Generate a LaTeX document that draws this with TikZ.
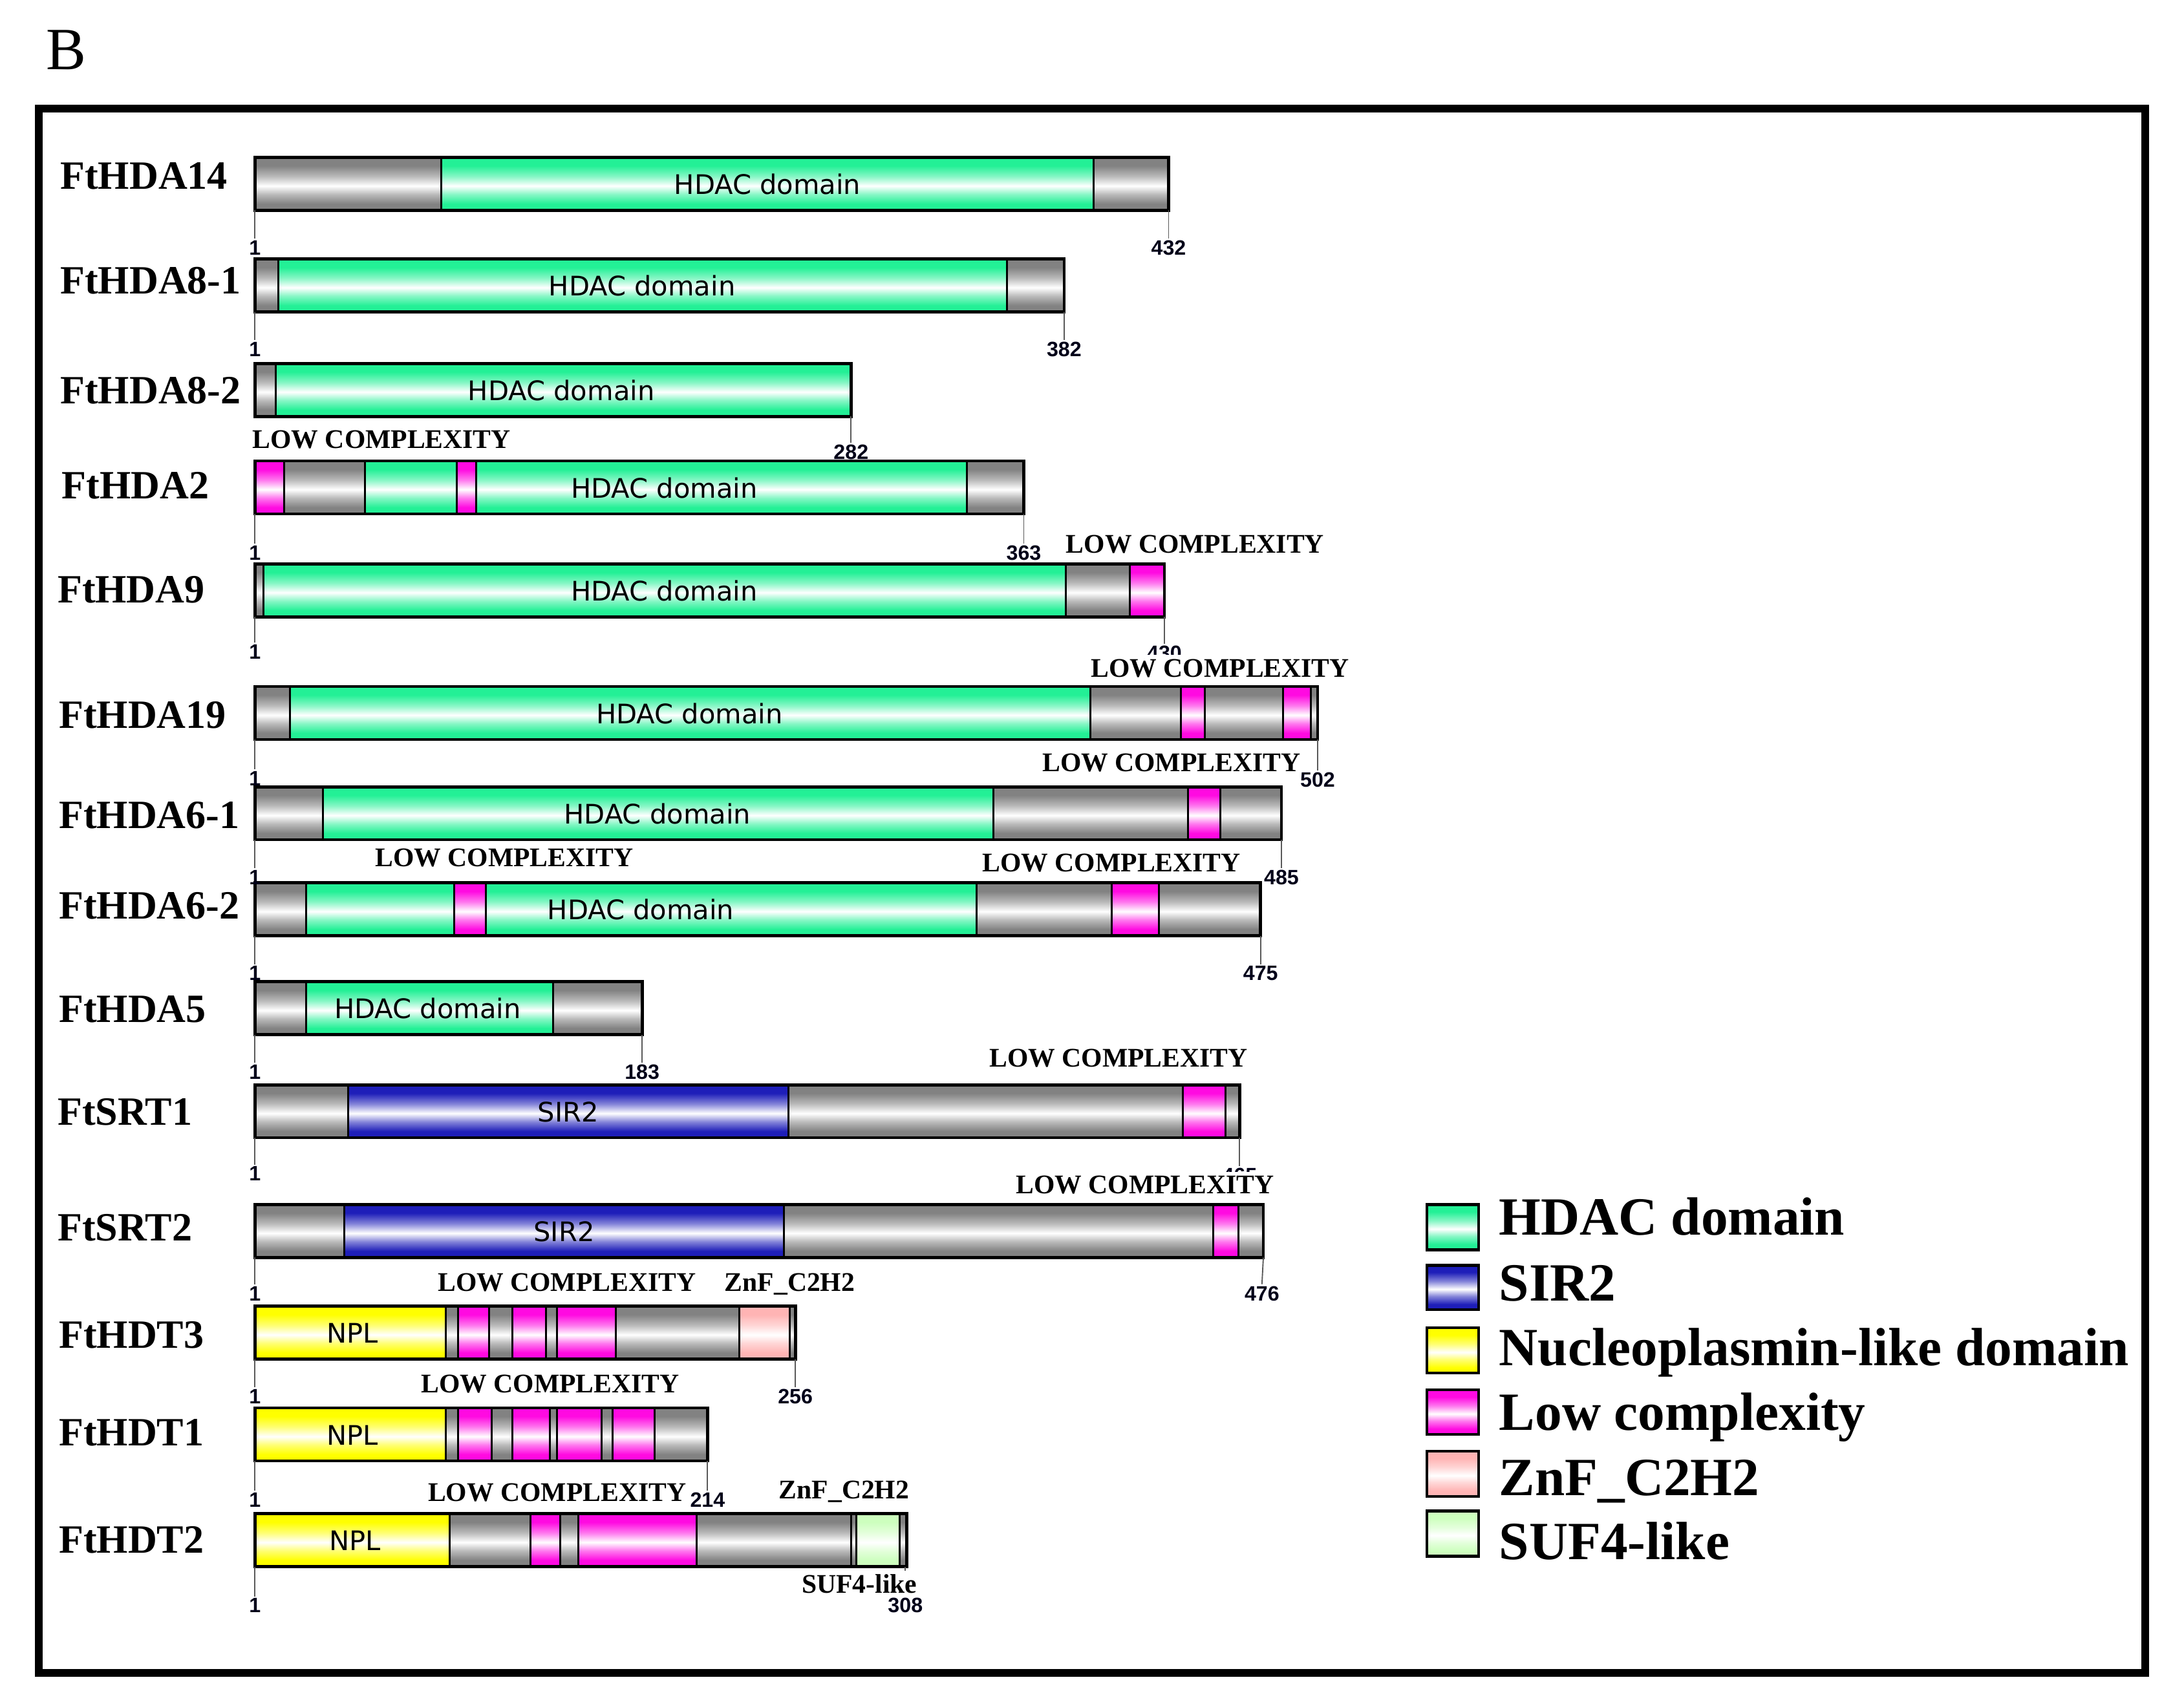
\documentclass[tikz,border=0pt]{standalone}
\usepackage{fontspec}
\setmainfont{Liberation Serif}
\newfontfamily\dvs{DejaVu Sans}
\newfontfamily\lsans{Liberation Sans}
\definecolor{cgrey}{RGB}{130,130,130}
\definecolor{cgreen}{RGB}{35,240,150}
\definecolor{cblue}{RGB}{30,30,185}
\definecolor{cyellow}{RGB}{255,255,0}
\definecolor{cpink}{RGB}{255,10,225}
\definecolor{czinc}{RGB}{255,180,180}
\definecolor{csuf}{RGB}{205,255,190}
\definecolor{ctick}{RGB}{90,90,90}
\newcommand{\mkshade}[2]{%
  \pgfdeclareverticalshading{#1}{100bp}{color(0bp)=(#2); color(25bp)=(#2); color(31bp)=(#2);
    color(40bp)=(#2!55!white); color(48bp)=(white); color(57bp)=(#2!55!white);
    color(67bp)=(#2); color(75bp)=(#2); color(100bp)=(#2)}}
\mkshade{shGrey}{cgrey}
\mkshade{shGreen}{cgreen}
\mkshade{shBlue}{cblue}
\mkshade{shYellow}{cyellow}
\mkshade{shPink}{cpink}
\mkshade{shZinc}{czinc}
\mkshade{shSuf}{csuf}
\tikzset{
  sgrey/.style={shading=shGrey}, sgreen/.style={shading=shGreen}, sblue/.style={shading=shBlue},
  syel/.style={shading=shYellow}, spink/.style={shading=shPink}, szinc/.style={shading=shZinc},
  ssuf/.style={shading=shSuf},
  segline/.style={draw=black, line width=0.8pt},
  barline/.style={draw=black, line width=1.25pt},
  tickline/.style={draw=ctick, line width=0.5pt},
  protname/.style={anchor=base west, inner sep=0pt, font=\fontsize{16.4}{18}\selectfont\bfseries},
  domtext/.style={anchor=base, inner sep=0pt, font=\dvs\fontsize{11}{13}\selectfont},
  numtext/.style={anchor=base, inner sep=0.6pt, font=\lsans\fontsize{8.5}{10}\selectfont\bfseries, text=black!90!blue},
  lctext/.style={anchor=base, inner xsep=0pt, inner ysep=1.6pt, fill=white, font=\fontsize{11}{13}\selectfont\bfseries},
  legtext/.style={anchor=base west, inner sep=0pt, font=\fontsize{22}{26}\selectfont\bfseries},
  legbox/.style={draw=black, line width=1.2pt}
}
\newcommand{\protbar}[3]{%
  \foreach \a/\b/\s in {#3}{\shadedraw[\s,segline] (\a,#1-19) rectangle (\b,#1+19);}
  \draw[barline] (183,#1-19) rectangle (#2,#1+19);}
\begin{document}
\begin{tikzpicture}[x=0.02cm,y=-0.02cm]
\useasboundingbox (0,0) rectangle (1568,1221.8);
% panel letter and frame
\node[anchor=base west, inner sep=0pt, font=\fontsize{24.5}{28}\selectfont] (panelB) at (33,50) {B};
\draw[line width=3.2pt] (27.9,77.8) rectangle (1540.2,1201.2);

% ---------- bars ----------
\protbar{132}{839}{183/317/sgrey, 317/785/sgreen, 785/839/sgrey}
\protbar{205}{764}{183/200/sgrey, 200/723/sgreen, 723/764/sgrey}
\protbar{280}{611}{183/198/sgrey, 198/611/sgreen}
\protbar{350}{735}{183/204/spink, 204/262/sgrey, 262/328/sgreen, 328/342/spink, 342/694/sgreen, 694/735/sgrey}
\protbar{424}{836}{183/189/sgrey, 189/765/sgreen, 765/811/sgrey, 811/836/spink}
\protbar{512}{946}{183/208/sgrey, 208/783/sgreen, 783/848/sgrey, 848/865/spink, 865/921/sgrey, 921/941/spink, 941/946/sgrey}
\protbar{584}{920}{183/232/sgrey, 232/713/sgreen, 713/853/sgrey, 853/876/spink, 876/920/sgrey}
\protbar{653}{905}{183/220/sgrey, 220/326/sgreen, 326/349/spink, 349/701/sgreen, 701/798/sgrey, 798/832/spink, 832/905/sgrey}
\protbar{724}{461}{183/220/sgrey, 220/397/sgreen, 397/461/sgrey}
\protbar{798}{890}{183/250/sgrey, 250/566/sblue, 566/849/sgrey, 849/880/spink, 880/890/sgrey}
\protbar{884}{907}{183/247/sgrey, 247/563/sblue, 563/871/sgrey, 871/889/spink, 889/907/sgrey}
\protbar{957}{571}{183/320/syel, 320/329/sgrey, 329/351/spink, 351/368/sgrey, 368/392/spink, 392/400/sgrey, 400/442/spink, 442/531/sgrey, 531/567/szinc, 567/571/sgrey}
\protbar{1030}{508}{183/320/syel, 320/329/sgrey, 329/353/spink, 353/368/sgrey, 368/395/spink, 395/400/sgrey, 400/432/spink, 432/440/sgrey, 440/470/spink, 470/508/sgrey}
\protbar{1106}{651}{183/323/syel, 323/381/sgrey, 381/402/spink, 402/415/sgrey, 415/500/spink, 500/611/sgrey, 611/615/sgrey, 615/646/ssuf, 646/651/sgrey}

% ---------- domain texts ----------
\node[domtext] (d1) at (551,139.5) {HDAC domain};
\node[domtext] (d2) at (461,212.5) {HDAC domain};
\node[domtext] (d3) at (403,287.5) {HDAC domain};
\node[domtext] (d4) at (477,357.5) {HDAC domain};
\node[domtext] (d5) at (477,431.5) {HDAC domain};
\node[domtext] (d6) at (495,519.5) {HDAC domain};
\node[domtext] (d7) at (472,591.5) {HDAC domain};
\node[domtext] (d8) at (460,660.5) {HDAC domain};
\node[domtext] (d9) at (307,731.5) {HDAC domain};
\node[domtext] (d10) at (408,805.5) {SIR2};
\node[domtext] (d11) at (405,891.5) {SIR2};
\node[domtext] (d12) at (253,964.5) {NPL};
\node[domtext] (d13) at (253,1037.5) {NPL};
\node[domtext] (d14) at (255,1113.5) {NPL};

% ---------- protein names ----------
\node[protname] (l1) at (43,136) {FtHDA14};
\node[protname] (l2) at (43,211) {FtHDA8-1};
\node[protname] (l3) at (43,290) {FtHDA8-2};
\node[protname] (l4) at (44,358) {FtHDA2};
\node[protname] (l5) at (41,433) {FtHDA9};
\node[protname] (l6) at (42,523) {FtHDA19};
\node[protname] (l7) at (42,595) {FtHDA6-1};
\node[protname] (l8) at (42,660) {FtHDA6-2};
\node[protname] (l9) at (42,734) {FtHDA5};
\node[protname] (l10) at (41,808) {FtSRT1};
\node[protname] (l11) at (41,891) {FtSRT2};
\node[protname] (l12) at (42,968) {FtHDT3};
\node[protname] (l13) at (42,1038) {FtHDT1};
\node[protname] (l14) at (42,1115) {FtHDT2};

% ---------- position numbers and ticks ----------
\node[numtext] (s1) at (183,183) {1};   \node[numtext] (e1) at (839,183) {432};
\node[numtext] (s2) at (183,256) {1};   \node[numtext] (e2) at (764,256) {382};
                                        \node[numtext] (e3) at (611,330) {282};
\node[numtext] (s4) at (183,402) {1};   \node[numtext] (e4) at (735,402) {363};
\node[numtext] (s5) at (183,473) {1};   \node[numtext] (e5) at (836,474) {430};
\node[numtext] (s6) at (183,564) {1};   \node[numtext] (e6) at (946,565) {502};
\node[numtext] (s7) at (183,635) {1};   \node[numtext] (e7) at (920,635) {485};
\node[numtext] (s8) at (183,704) {1};   \node[numtext] (e8) at (905,704) {475};
\node[numtext] (s9) at (183,775) {1};   \node[numtext] (e9) at (461,775) {183};
\node[numtext] (s10) at (183,848) {1};  \node[numtext] (e10) at (890,849) {465};
\node[numtext] (s11) at (183,934) {1};  \node[numtext] (e11) at (906,934) {476};
\node[numtext] (s12) at (183,1008) {1}; \node[numtext] (e12) at (571,1008) {256};
\node[numtext] (s13) at (183,1082) {1}; \node[numtext] (e13) at (508,1082) {214};
\node[numtext] (s14) at (183,1158) {1}; \node[numtext] (e14) at (650,1158) {308};

\foreach \y/\n in {151/1, 224/2, 369/4, 443/5, 531/6, 603/7, 672/8, 743/9, 817/10, 903/11, 976/12, 1049/13, 1125/14}
  {\draw[tickline] (183,\y) -- (s\n.north);}
\foreach \y/\x/\n in {151/839/1, 224/764/2, 299/611/3, 369/735/4, 443/836/5, 531/946/6, 603/920/7, 672/905/8, 743/461/9, 817/890/10, 903/907/11, 976/571/12, 1049/508/13, 1125/650/14}
  {\draw[tickline] (\x,\y) -- (e\n.north);}

% ---------- feature labels ----------
\node[lctext] (c4) at (274,322) {LOW COMPLEXITY};
\node[lctext] (c5) at (858,397) {LOW COMPLEXITY};
\node[lctext] (c6) at (876,486) {LOW COMPLEXITY};
\node[lctext] (c7) at (841,554) {LOW COMPLEXITY};
\node[lctext] (c8a) at (362,622) {LOW COMPLEXITY};
\node[lctext] (c8b) at (798,626) {LOW COMPLEXITY};
\node[lctext] (c10) at (803,766) {LOW COMPLEXITY};
\node[lctext] (c11) at (822,857) {LOW COMPLEXITY};
\node[lctext] (c12) at (407,927) {LOW COMPLEXITY};
\node[lctext] (z12) at (567,927) {ZnF\_C2H2};
\node[lctext] (c13) at (395,1000) {LOW COMPLEXITY};
\node[lctext] (c14) at (400,1078) {LOW COMPLEXITY};
\node[lctext] (z14) at (606,1076) {ZnF\_C2H2};
\node[lctext] (f14) at (617,1144) {SUF4-like};

% ---------- legend ----------
\shadedraw[sgreen,legbox] (1024.5,865) rectangle (1061.5,897.5);
\shadedraw[sblue,legbox] (1024.5,908.5) rectangle (1061.5,940.5);
\shadedraw[syel,legbox] (1024.5,953.5) rectangle (1061.5,986);
\shadedraw[spink,legbox] (1024.5,998) rectangle (1061.5,1030);
\shadedraw[szinc,legbox] (1024.5,1042) rectangle (1061.5,1074.5);
\shadedraw[ssuf,legbox] (1024.5,1085) rectangle (1061.5,1117.5);
\node[legtext] (g1) at (1076,887) {HDAC domain};
\node[legtext] (g2) at (1076,934) {SIR2};
\node[legtext] (g3) at (1076,980.5) {Nucleoplasmin-like domain};
\node[legtext] (g4) at (1076,1027) {Low complexity};
\node[legtext] (g5) at (1076,1074) {ZnF\_C2H2};
\node[legtext] (g6) at (1076,1120) {SUF4-like};
\end{tikzpicture}
\end{document}
